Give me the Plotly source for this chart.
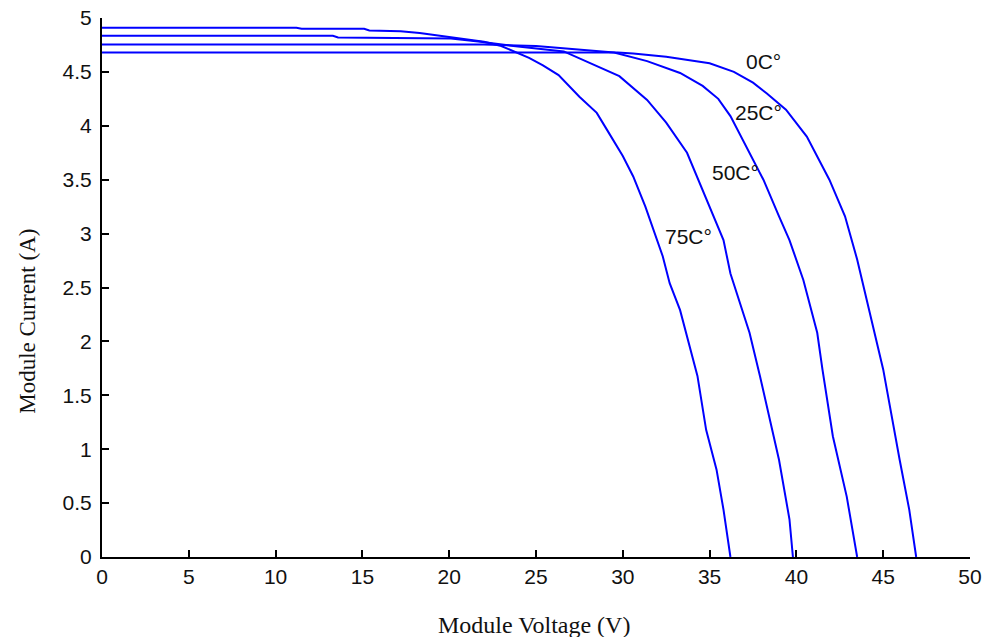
import plotly.graph_objects as go

# I-V curves at different temperatures
v_0C = [0, 29.7, 30.6, 32.5, 35.0, 36.4, 37.5, 38.3, 39.4, 40.2, 40.6, 41.9, 42.8, 43.5, 44.4, 45.0, 45.95, 46.5, 46.9]
i_0C = [4.68, 4.68, 4.67, 4.64, 4.58, 4.50, 4.40, 4.30, 4.15, 3.99, 3.90, 3.50, 3.16, 2.76, 2.14, 1.74, 0.90, 0.44, 0.0]

v_25C = [0, 22.0, 25.0, 27.5, 29.5, 31.4, 33.3, 34.6, 35.5, 36.2, 37.1, 38.1, 39.0, 39.6, 40.4, 41.2, 41.5, 42.1, 42.9, 43.5]
i_25C = [4.755, 4.755, 4.74, 4.71, 4.68, 4.60, 4.49, 4.37, 4.25, 4.09, 3.81, 3.50, 3.16, 2.94, 2.57, 2.08, 1.74, 1.12, 0.56, 0.0]

v_50C = [0, 13.3, 13.6, 20.1, 21.8, 23.7, 26.6, 28.1, 29.8, 31.4, 32.5, 33.7, 35.0, 35.8, 36.2, 36.9, 37.3, 37.9, 38.3, 39.0, 39.6, 39.8]
i_50C = [4.835, 4.835, 4.82, 4.81, 4.78, 4.74, 4.69, 4.58, 4.46, 4.24, 4.03, 3.75, 3.25, 2.94, 2.63, 2.29, 2.08, 1.68, 1.40, 0.90, 0.35, 0.0]

v_75C = [0, 11.2, 11.5, 15.1, 15.4, 17.2, 18.3, 20.1, 22.0, 23.0, 23.9, 24.6, 25.4, 26.3, 27.5, 28.5, 29.1, 30.0, 30.6, 31.3, 32.3, 32.7, 33.3, 33.6, 34.3, 34.8, 35.4, 35.8, 36.2]
i_75C = [4.91, 4.91, 4.90, 4.90, 4.885, 4.876, 4.86, 4.82, 4.78, 4.74, 4.68, 4.63, 4.56, 4.47, 4.27, 4.12, 3.96, 3.72, 3.53, 3.25, 2.79, 2.54, 2.29, 2.11, 1.68, 1.18, 0.81, 0.44, 0.0]

curve_labels = ["0C°", "25C°", "50C°", "75C°"]
label_x = [38.1, 37.8, 36.5, 33.8]
label_y = [4.6, 4.12, 3.57, 2.97]

x_ticks = [0, 5, 10, 15, 20, 25, 30, 35, 40, 45, 50]
y_ticks = [0, 0.5, 1, 1.5, 2, 2.5, 3, 3.5, 4, 4.5, 5]
y_tick_text = ["0", "0.5", "1", "1.5", "2", "2.5", "3", "3.5", "4", "4.5", "5"]

fig = go.Figure()
for vs, cs in [(v_0C, i_0C), (v_25C, i_25C), (v_50C, i_50C), (v_75C, i_75C)]:
    fig.add_trace(go.Scatter(x=vs, y=cs, mode="lines",
                             line=dict(color="#0000FF", width=2),
                             showlegend=False, hoverinfo="skip"))

sans = "Liberation Sans, Arial, sans-serif"
serif = "Liberation Serif, Times New Roman, serif"

for t, lx, ly in zip(curve_labels, label_x, label_y):
    fig.add_annotation(x=lx, y=ly, text=t, showarrow=False,
                       font=dict(family=sans, size=21, color="#111111"),
                       xanchor="center", yanchor="middle")

fig.add_annotation(xref="paper", yref="paper", x=0.498, y=-0.126,
                   text="Module Voltage (V)", showarrow=False,
                   font=dict(family=serif, size=24, color="#111111"),
                   xanchor="center", yanchor="middle")
fig.add_annotation(xref="paper", yref="paper", x=-0.086, y=0.437,
                   text="Module Current (A)", showarrow=False, textangle=-90,
                   font=dict(family=serif, size=23, color="#111111"),
                   xanchor="center", yanchor="middle")

fig.update_xaxes(range=[0, 50], tickmode="array", tickvals=x_ticks,
                 ticks="inside", ticklen=7, tickwidth=2, tickcolor="black",
                 showline=True, linecolor="black", linewidth=2,
                 showgrid=False, zeroline=False, automargin=False,
                 tickfont=dict(family=sans, size=21, color="#111111"))
fig.update_yaxes(range=[0, 5], tickmode="array", tickvals=y_ticks, ticktext=y_tick_text,
                 ticks="inside", ticklen=7, tickwidth=2, tickcolor="black",
                 showline=True, linecolor="black", linewidth=2,
                 showgrid=False, zeroline=False, automargin=False,
                 ticklabelstandoff=4,
                 tickfont=dict(family=sans, size=21, color="#111111"))

fig.update_layout(width=987, height=637,
                  margin=dict(l=102, r=17, t=18, b=80),
                  plot_bgcolor="white", paper_bgcolor="white")

fig.write_html("out.html")
